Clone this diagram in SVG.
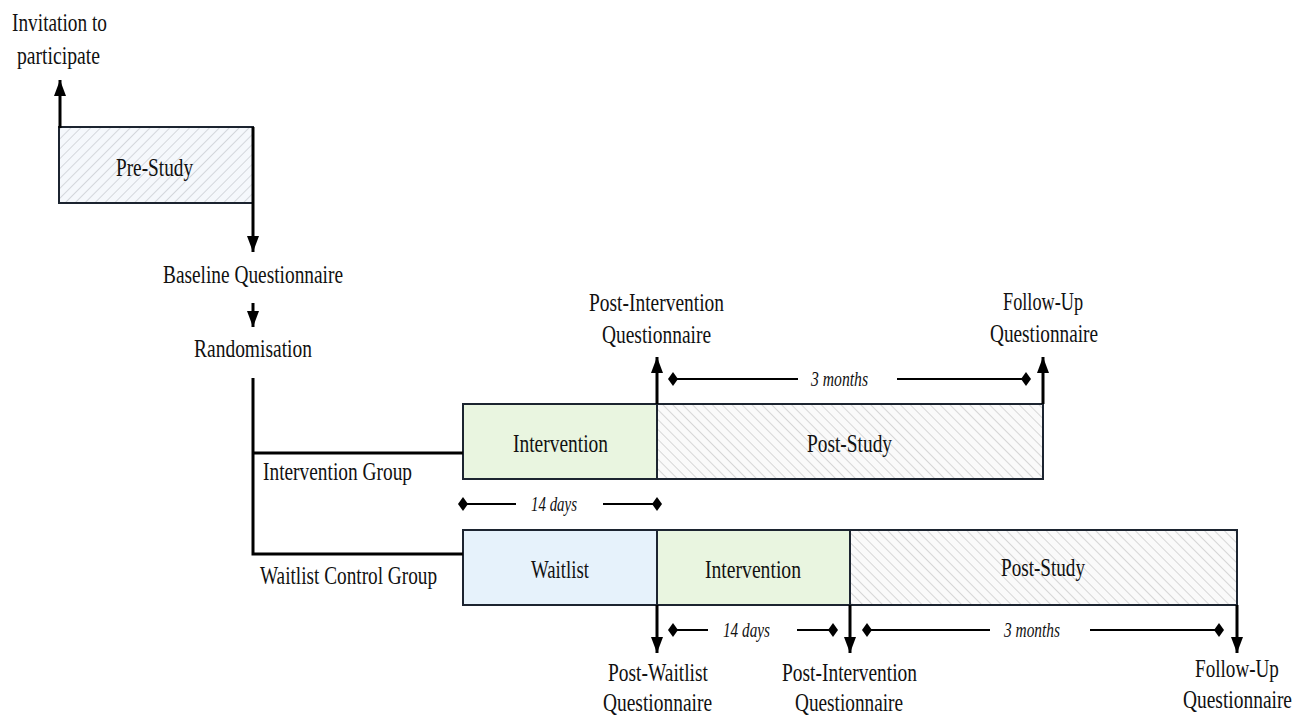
<svg xmlns="http://www.w3.org/2000/svg" width="1303" height="717" viewBox="0 0 1303 717">
<defs>
<pattern id="hatchUp" patternUnits="userSpaceOnUse" width="7" height="7" patternTransform="rotate(45)">
<rect width="7" height="7" fill="#f5f8fc"/>
<line x1="0" y1="0" x2="0" y2="7" stroke="#c9cdd2" stroke-width="1.5"/>
</pattern>
<pattern id="hatchDown" patternUnits="userSpaceOnUse" width="7" height="7" patternTransform="rotate(-45)">
<rect width="7" height="7" fill="#fafafa"/>
<line x1="0" y1="0" x2="0" y2="7" stroke="#cbcbcb" stroke-width="1.5"/>
</pattern>
<marker id="ah" markerUnits="userSpaceOnUse" markerWidth="16" markerHeight="12" refX="16" refY="6" orient="auto" viewBox="0 0 16 12">
<path d="M0,0 L16,6 L0,12 Z" fill="#000"/>
</marker>
</defs>
<style>
text{font-family:"Liberation Serif","Times New Roman",serif;font-size:25px;fill:#111;}
.it{font-style:italic;font-size:21px;}
.box{stroke:#1c2430;stroke-width:2;}
.arrow{stroke:#000;stroke-width:3;fill:none;marker-end:url(#ah);}
.line{stroke:#000;stroke-width:3;fill:none;}
.dim{stroke:#000;stroke-width:1.8;fill:none;}
.dia{fill:#000;}
</style>
<rect width="1303" height="717" fill="#fff"/>

<g id="invitation">
<text x="12" y="31" textLength="95" lengthAdjust="spacingAndGlyphs">Invitation to</text>
<text x="17" y="64" textLength="83" lengthAdjust="spacingAndGlyphs">participate</text>
</g>

<g id="pre-study">
<rect class="box" x="59" y="127" width="194" height="76" fill="url(#hatchUp)"/>
<text x="116" y="176" textLength="77" lengthAdjust="spacingAndGlyphs">Pre-Study</text>
</g>

<g id="baseline">
<text x="163" y="283" textLength="180" lengthAdjust="spacingAndGlyphs">Baseline Questionnaire</text>
</g>

<g id="randomisation">
<text x="194" y="357" textLength="118" lengthAdjust="spacingAndGlyphs">Randomisation</text>
</g>

<g id="intervention-group-label">
<text x="263" y="480" textLength="149" lengthAdjust="spacingAndGlyphs">Intervention Group</text>
</g>

<g id="waitlist-group-label">
<text x="260" y="584" textLength="177" lengthAdjust="spacingAndGlyphs">Waitlist Control Group</text>
</g>

<g id="ig-intervention">
<rect class="box" x="463" y="404" width="194" height="75" fill="#e9f5e0"/>
<text x="513" y="452" textLength="95" lengthAdjust="spacingAndGlyphs">Intervention</text>
</g>

<g id="ig-post-study">
<rect class="box" x="657" y="404" width="386" height="75" fill="url(#hatchDown)"/>
<text x="807" y="452" textLength="85" lengthAdjust="spacingAndGlyphs">Post-Study</text>
</g>

<g id="wl-waitlist">
<rect class="box" x="463" y="530" width="194" height="75" fill="#e6f2fb"/>
<text x="531" y="578" textLength="58" lengthAdjust="spacingAndGlyphs">Waitlist</text>
</g>

<g id="wl-intervention">
<rect class="box" x="657" y="530" width="193" height="75" fill="#e9f5e0"/>
<text x="705" y="578" textLength="96" lengthAdjust="spacingAndGlyphs">Intervention</text>
</g>

<g id="wl-post-study">
<rect class="box" x="850" y="530" width="387" height="75" fill="url(#hatchDown)"/>
<text x="1001" y="576" textLength="84" lengthAdjust="spacingAndGlyphs">Post-Study</text>
</g>

<g id="ig-post-intervention-q">
<text x="589" y="311" textLength="135" lengthAdjust="spacingAndGlyphs">Post-Intervention</text>
<text x="602" y="343" textLength="109" lengthAdjust="spacingAndGlyphs">Questionnaire</text>
</g>

<g id="ig-follow-up-q">
<text x="1003" y="310" textLength="80" lengthAdjust="spacingAndGlyphs">Follow-Up</text>
<text x="990" y="342" textLength="108" lengthAdjust="spacingAndGlyphs">Questionnaire</text>
</g>

<g id="wl-post-waitlist-q">
<text x="608" y="681" textLength="100" lengthAdjust="spacingAndGlyphs">Post-Waitlist</text>
<text x="603" y="711" textLength="109" lengthAdjust="spacingAndGlyphs">Questionnaire</text>
</g>

<g id="wl-post-intervention-q">
<text x="782" y="681" textLength="135" lengthAdjust="spacingAndGlyphs">Post-Intervention</text>
<text x="795" y="711" textLength="108" lengthAdjust="spacingAndGlyphs">Questionnaire</text>
</g>

<g id="wl-follow-up-q">
<text transform="translate(1195,677) scale(0.765,1)">Follow-Up</text>
<text transform="translate(1183,708) scale(0.778,1)">Questionnaire</text>
</g>

<g id="connectors">
<line class="arrow" x1="60" y1="128" x2="60" y2="80"/>
<line class="arrow" x1="253" y1="127" x2="253" y2="252"/>
<line class="arrow" x1="253" y1="303" x2="253" y2="327"/>
<polyline class="line" points="253,378 253,554 463,554"/>
<line class="line" x1="253" y1="453" x2="463" y2="453"/>
<line class="arrow" x1="657" y1="404" x2="657" y2="357"/>
<line class="arrow" x1="1043" y1="404" x2="1043" y2="357"/>
<line class="arrow" x1="657" y1="605" x2="657" y2="653"/>
<line class="arrow" x1="850" y1="605" x2="850" y2="653"/>
<line class="arrow" x1="1237" y1="605" x2="1237" y2="653"/>
</g>

<g id="dim-ig-3months">
<line class="dim" x1="673" y1="379" x2="798" y2="379"/>
<line class="dim" x1="897" y1="379" x2="1026" y2="379"/>
<polygon class="dia" points="673,372 678,379 673,386 668,379"/>
<polygon class="dia" points="1026,372 1031,379 1026,386 1021,379"/>
<text class="it" x="811" y="386" textLength="57" lengthAdjust="spacingAndGlyphs">3 months</text>
</g>

<g id="dim-ig-14days">
<line class="dim" x1="463" y1="504" x2="516" y2="504"/>
<line class="dim" x1="603" y1="504" x2="657" y2="504"/>
<polygon class="dia" points="463,497 468,504 463,511 458,504"/>
<polygon class="dia" points="657,497 662,504 657,511 652,504"/>
<text class="it" x="531" y="511" textLength="46" lengthAdjust="spacingAndGlyphs">14 days</text>
</g>

<g id="dim-wl-14days">
<line class="dim" x1="673" y1="630" x2="708" y2="630"/>
<line class="dim" x1="797" y1="630" x2="833" y2="630"/>
<polygon class="dia" points="673,623 678,630 673,637 668,630"/>
<polygon class="dia" points="833,623 838,630 833,637 828,630"/>
<text class="it" x="723" y="637" textLength="47" lengthAdjust="spacingAndGlyphs">14 days</text>
</g>

<g id="dim-wl-3months">
<line class="dim" x1="867" y1="630" x2="990" y2="630"/>
<line class="dim" x1="1090" y1="630" x2="1219" y2="630"/>
<polygon class="dia" points="867,623 872,630 867,637 862,630"/>
<polygon class="dia" points="1219,623 1224,630 1219,637 1214,630"/>
<text class="it" x="1004" y="637" textLength="56" lengthAdjust="spacingAndGlyphs">3 months</text>
</g>
</svg>
